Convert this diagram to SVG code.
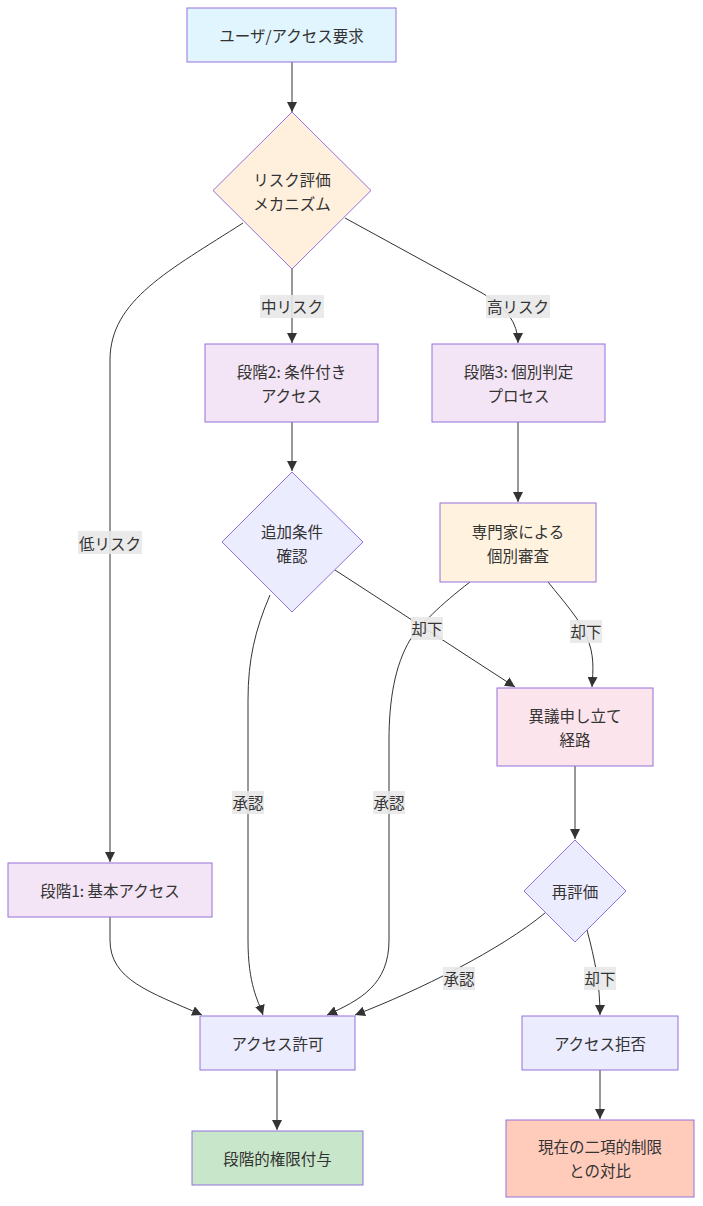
<svg xmlns="http://www.w3.org/2000/svg" width="703" height="1206" viewBox="0 0 703 1206">
<defs>
<marker id="arr" viewBox="0 0 10 10" refX="10" refY="5" markerUnits="userSpaceOnUse" markerWidth="10" markerHeight="10" orient="auto">
<path d="M0,0 L10,5 L0,10 z" fill="#333"/>
</marker>
</defs>
<style>
.n{stroke:#9370db;stroke-width:1}
.t{font-family:"Noto Sans CJK JP","Liberation Sans",sans-serif;font-size:15.5px;fill:#333;text-anchor:middle;dominant-baseline:central}
.e{fill:none;stroke:#333;stroke-width:1;marker-end:url(#arr)}
.lb{fill:#e8e8e8;opacity:0.9}
</style>
<rect width="703" height="1206" fill="#fff"/>
<g id="edges">
<path class="e" d="M292,62 L292,112"/>
<path class="e" d="M243,223 C170,270 110,300 110,360 L110,862"/>
<path class="e" d="M292,269 L292,343"/>
<path class="e" d="M345,218 L482,293 Q518,313 518,343"/>
<path class="e" d="M292,422 L292,471"/>
<path class="e" d="M518,422 L518,502"/>
<path class="e" d="M270,595 C255,630 248,660 248,700 L248,940 C248,985 258,1000 263,1015"/>
<path class="e" d="M335,570 L515,687"/>
<path class="e" d="M470,582 C440,605 420,625 410,640 C395,665 389,700 389,740 L389,940 C389,985 360,1000 327,1015"/>
<path class="e" d="M548,582 C565,603 580,620 586,635 C595,655 593,670 592,687"/>
<path class="e" d="M575,766 L575,839"/>
<path class="e" d="M110,917 L110,940 C110,980 150,992 202,1015"/>
<path class="e" d="M545,913 C500,950 420,990 355,1015"/>
<path class="e" d="M587,930 C595,960 600,985 600,1015"/>
<path class="e" d="M277,1070 L277,1130"/>
<path class="e" d="M600,1070 L600,1119"/>
</g>
<g id="edge-labels">
<rect class="lb" x="260" y="295" width="64" height="23"/><text class="t" x="292" y="306">中リスク</text>
<rect class="lb" x="486" y="295" width="64" height="23"/><text class="t" x="518" y="306">高リスク</text>
<rect class="lb" x="78" y="531" width="64" height="23"/><text class="t" x="110" y="543">低リスク</text>
<rect class="lb" x="411" y="617" width="32" height="23"/><text class="t" x="427" y="628">却下</text>
<rect class="lb" x="570" y="620" width="32" height="23"/><text class="t" x="586" y="631">却下</text>
<rect class="lb" x="232" y="791" width="32" height="23"/><text class="t" x="248" y="802">承認</text>
<rect class="lb" x="373" y="791" width="32" height="23"/><text class="t" x="389" y="802">承認</text>
<rect class="lb" x="443" y="967" width="32" height="23"/><text class="t" x="459" y="978">承認</text>
<rect class="lb" x="584" y="967" width="32" height="23"/><text class="t" x="600" y="978">却下</text>
</g>
<g id="n-request"><rect class="n" x="187" y="8" width="209" height="54" fill="#e1f5fe"/><text class="t" x="291.5" y="35">ユーザ/アクセス要求</text></g>
<g id="n-risk"><polygon class="n" points="292,112 371,190.5 292,269 213,190.5" fill="#fff0de"/><text class="t" x="292" y="179">リスク評価</text><text class="t" x="292" y="203">メカニズム</text></g>
<g id="n-stage2"><rect class="n" x="205" y="344" width="173" height="78" fill="#f3e5f5"/><text class="t" x="291.5" y="371">段階2: 条件付き</text><text class="t" x="291.5" y="395">アクセス</text></g>
<g id="n-stage3"><rect class="n" x="432" y="344" width="173" height="78" fill="#f3e5f5"/><text class="t" x="518.5" y="371">段階3: 個別判定</text><text class="t" x="518.5" y="395">プロセス</text></g>
<g id="n-check"><polygon class="n" points="292,472 363,542 292,612 222,542" fill="#ececff"/><text class="t" x="292" y="531">追加条件</text><text class="t" x="292" y="555">確認</text></g>
<g id="n-expert"><rect class="n" x="440" y="503" width="156" height="79" fill="#fff3e0"/><text class="t" x="518" y="531">専門家による</text><text class="t" x="518" y="555">個別審査</text></g>
<g id="n-appeal"><rect class="n" x="497" y="688" width="156" height="78" fill="#fce4ec"/><text class="t" x="575" y="715">異議申し立て</text><text class="t" x="575" y="739">経路</text></g>
<g id="n-reeval"><polygon class="n" points="575,840 626,891 575,942 524,891" fill="#ececff"/><text class="t" x="575" y="891">再評価</text></g>
<g id="n-stage1"><rect class="n" x="8" y="863" width="204" height="54" fill="#f3e5f5"/><text class="t" x="110" y="890">段階1: 基本アクセス</text></g>
<g id="n-grant"><rect class="n" x="200" y="1016" width="155" height="54" fill="#ececff"/><text class="t" x="277.5" y="1043">アクセス許可</text></g>
<g id="n-deny"><rect class="n" x="522" y="1016" width="156" height="54" fill="#ececff"/><text class="t" x="600" y="1043">アクセス拒否</text></g>
<g id="n-graded"><rect class="n" x="192" y="1131" width="171" height="54" fill="#c8e6c9"/><text class="t" x="277.5" y="1158">段階的権限付与</text></g>
<g id="n-compare"><rect class="n" x="506" y="1120" width="188" height="77" fill="#ffccbc"/><text class="t" x="600" y="1146">現在の二項的制限</text><text class="t" x="600" y="1170">との対比</text></g>
</svg>
